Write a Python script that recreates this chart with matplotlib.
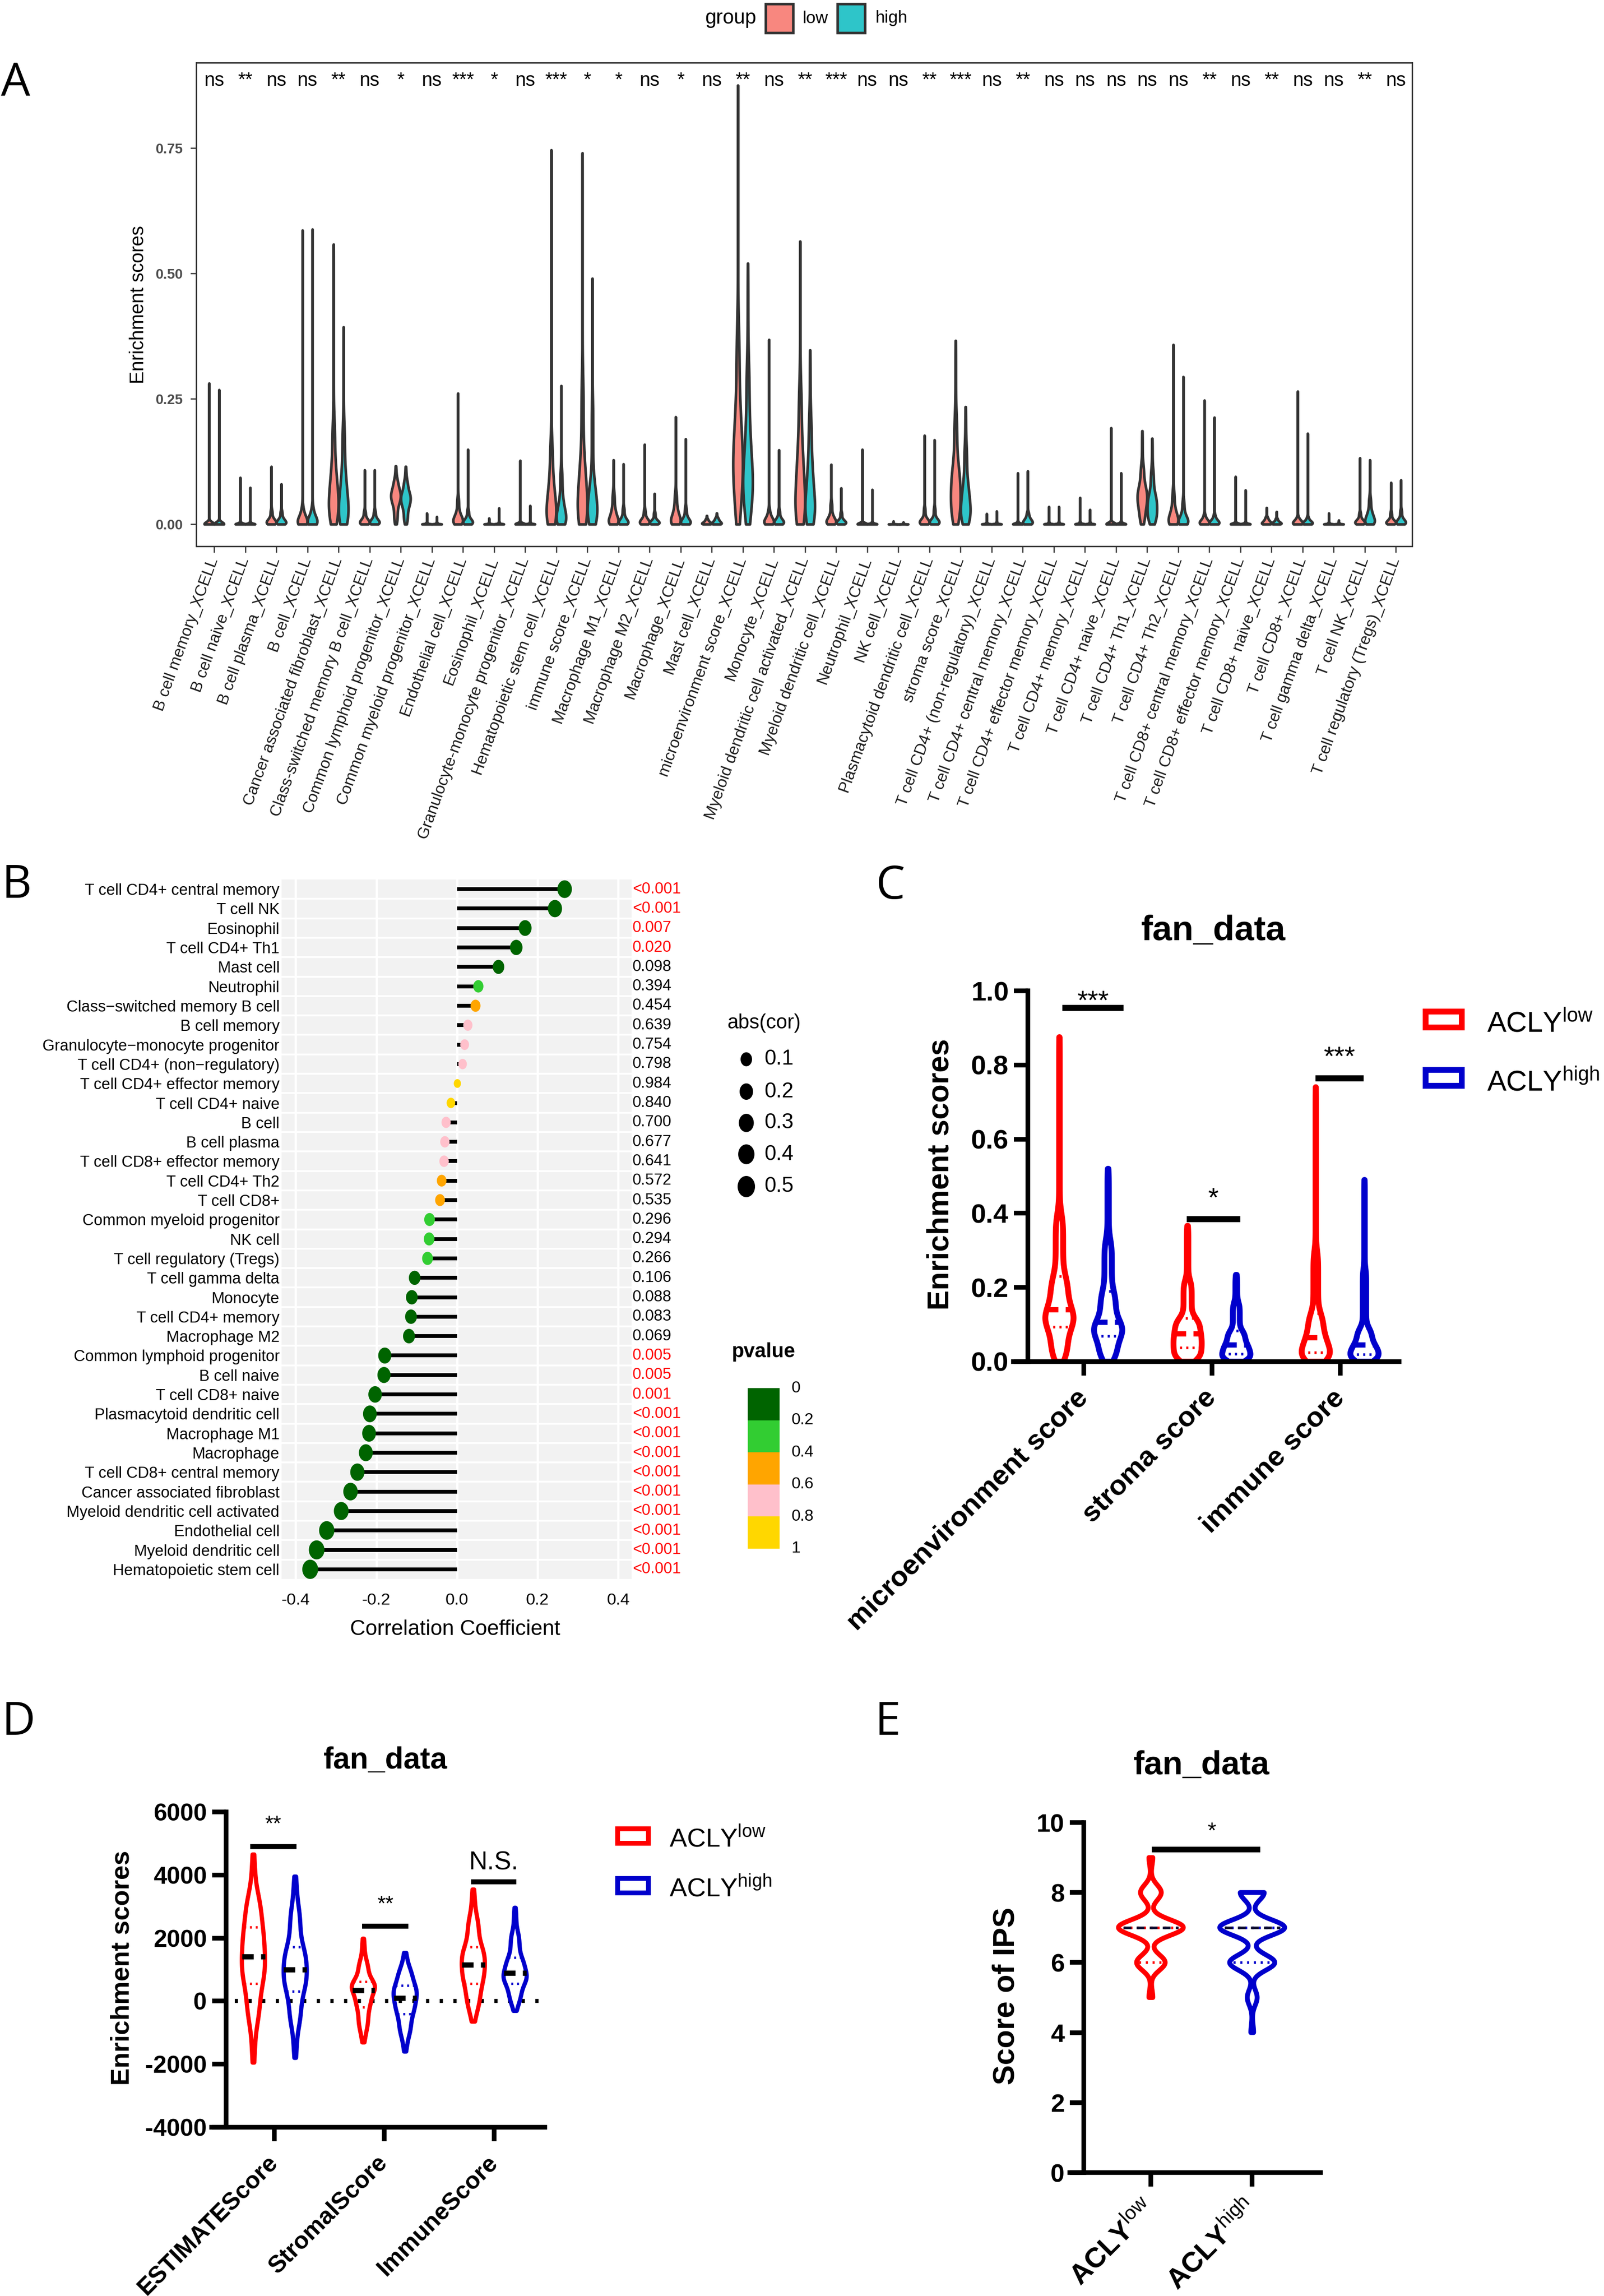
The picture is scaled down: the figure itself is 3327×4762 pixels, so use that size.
import math
import numpy as np
import matplotlib
matplotlib.use("Agg")
import matplotlib.pyplot as plt
from matplotlib.path import Path
from matplotlib.markers import MarkerStyle
from matplotlib.patches import Rectangle
from matplotlib.colors import ListedColormap, BoundaryNorm
from matplotlib.transforms import blended_transform_factory
from matplotlib import font_manager as fm

# ======================= DATA =======================
# ---- Panel A : xCell enrichment scores (quantiles) ----
A_cells = ["B cell memory", "B cell naive", "B cell plasma", "B cell",
           "Cancer associated fibroblast", "Class-switched memory B cell",
           "Common lymphoid progenitor", "Common myeloid progenitor", "Endothelial cell",
           "Eosinophil", "Granulocyte-monocyte progenitor", "Hematopoietic stem cell",
           "immune score", "Macrophage M1", "Macrophage M2", "Macrophage", "Mast cell",
           "microenvironment score", "Monocyte", "Myeloid dendritic cell activated",
           "Myeloid dendritic cell", "Neutrophil", "NK cell", "Plasmacytoid dendritic cell",
           "stroma score", "T cell CD4+ (non-regulatory)", "T cell CD4+ central memory",
           "T cell CD4+ effector memory", "T cell CD4+ memory", "T cell CD4+ naive",
           "T cell CD4+ Th1", "T cell CD4+ Th2", "T cell CD8+ central memory",
           "T cell CD8+ effector memory", "T cell CD8+ naive", "T cell CD8+",
           "T cell gamma delta", "T cell NK", "T cell regulatory (Tregs)"]
A_signif = ["ns", "**", "ns", "ns", "**", "ns", "*", "ns", "***", "*",
            "ns", "***", "*", "*", "ns", "*", "ns", "**", "ns", "**",
            "***", "ns", "ns", "**", "***", "ns", "**", "ns", "ns", "ns",
            "ns", "ns", "**", "ns", "**", "ns", "ns", "**", "ns"]
A_min = 0.0
A_probs = [0.0, 0.25, 0.5, 0.75, 0.95, 1.0]
low_q25 = [0, 0, .002, .002, .03, .002, .04, 0, .004, 0, 0, .015, .025, .004, .002, .004, .001, .094, .002, .03,
           .003, 0, 0, .002, .038, 0, 0, 0, 0, 0, .035, .004, .001, 0, .001, .001, 0, .002, .002]
low_q50 = [0, 0, .006, .006, .06, .006, .055, 0, .01, 0, 0, .04, .065, .012, .006, .012, .003, .14, .006, .08,
           .008, 0, 0, .006, .075, 0, 0, 0, 0, 0, .055, .012, .004, 0, .004, .003, 0, .005, .005]
low_q75 = [.001, .001, .012, .013, .11, .012, .068, .001, .022, .001, .001, .085, .13, .03, .012, .03, .006, .23, .012, .15,
           .018, .001, .0005, .012, .117, .001, .001, .001, .001, .001, .075, .03, .008, .001, .008, .006, .001, .01, .01]
low_q95 = [.006, .005, .03, .035, .21, .028, .09, .004, .055, .004, .005, .17, .30, .065, .03, .065, .011, .40, .03, .28,
           .045, .005, .002, .035, .22, .004, .006, .005, .005, .006, .12, .07, .02, .005, .015, .015, .004, .025, .025]
low_max = [.281, .093, .115, .586, .558, .108, .116, .022, .261, .012, .127, .746, .740, .128, .159, .214, .017, .875, .368, .564,
           .119, .149, .006, .177, .366, .021, .102, .035, .053, .192, .186, .358, .247, .095, .033, .265, .022, .132, .083]
high_q25 = [0, 0, .002, .002, .02, .002, .035, 0, .002, 0, 0, .008, .02, .002, .002, .002, .001, .069, .002, .025,
            .002, 0, 0, .002, .021, 0, .002, 0, 0, 0, .02, .003, .001, 0, .001, .001, 0, .004, .002]
high_q50 = [0, 0, .006, .006, .05, .006, .05, 0, .006, 0, 0, .022, .045, .006, .005, .006, .004, .106, .006, .06,
            .005, 0, 0, .006, .046, 0, .006, 0, 0, 0, .04, .008, .004, 0, .003, .003, 0, .012, .006]
high_q75 = [.001, .001, .012, .013, .10, .012, .063, .001, .012, .001, .001, .05, .09, .014, .01, .014, .008, .19, .012, .12,
            .01, .001, .0005, .012, .083, .001, .012, .001, .001, .001, .06, .02, .008, .001, .006, .006, .001, .025, .012]
high_q95 = [.006, .005, .028, .035, .20, .028, .088, .004, .03, .005, .005, .11, .25, .035, .025, .035, .014, .33, .03, .22,
            .025, .005, .002, .035, .16, .005, .025, .005, .005, .006, .11, .05, .02, .005, .012, .015, .003, .055, .03]
high_max = [.268, .073, .080, .588, .393, .108, .115, .015, .149, .032, .037, .276, .490, .120, .061, .170, .022, .520, .148, .347,
            .072, .069, .004, .168, .234, .026, .106, .035, .029, .102, .171, .294, .213, .068, .025, .181, .008, .128, .088]
A_yticks = [0.0, 0.25, 0.50, 0.75]
A_yticklabels = ["0.00", "0.25", "0.50", "0.75"]

# ---- Panel B : correlation with ACLY ----
B_cells = ["T cell CD4+ central memory", "T cell NK", "Eosinophil", "T cell CD4+ Th1", "Mast cell",
           "Neutrophil", "Class\u2212switched memory B cell", "B cell memory",
           "Granulocyte\u2212monocyte progenitor", "T cell CD4+ (non\u2212regulatory)",
           "T cell CD4+ effector memory", "T cell CD4+ naive", "B cell", "B cell plasma",
           "T cell CD8+ effector memory", "T cell CD4+ Th2", "T cell CD8+", "Common myeloid progenitor",
           "NK cell", "T cell regulatory (Tregs)", "T cell gamma delta", "Monocyte", "T cell CD4+ memory",
           "Macrophage M2", "Common lymphoid progenitor", "B cell naive", "T cell CD8+ naive",
           "Plasmacytoid dendritic cell", "Macrophage M1", "Macrophage", "T cell CD8+ central memory",
           "Cancer associated fibroblast", "Myeloid dendritic cell activated", "Endothelial cell",
           "Myeloid dendritic cell", "Hematopoietic stem cell"]
B_cor = [0.267, 0.243, 0.169, 0.147, 0.103, 0.053, 0.046, 0.027, 0.019, 0.014, 0.001, -0.015,
         -0.027, -0.030, -0.032, -0.038, -0.042, -0.068, -0.069, -0.073, -0.105, -0.112, -0.114, -0.119,
         -0.179, -0.181, -0.203, -0.216, -0.218, -0.226, -0.247, -0.264, -0.287, -0.323, -0.348, -0.364]
B_p = [0.0004, 0.0004, 0.007, 0.020, 0.098, 0.394, 0.454, 0.639, 0.754, 0.798, 0.984, 0.840,
       0.700, 0.677, 0.641, 0.572, 0.535, 0.296, 0.294, 0.266, 0.106, 0.088, 0.083, 0.069,
       0.005, 0.005, 0.0012, 0.0004, 0.0004, 0.0004, 0.0004, 0.0004, 0.0004, 0.0004, 0.0004, 0.0004]
B_xticks = [-0.4, -0.2, 0.0, 0.2, 0.4]
B_xticklabels = ["-0.4", "-0.2", "0.0", "0.2", "0.4"]
B_size_breaks = [0.1, 0.2, 0.3, 0.4, 0.5]
B_p_bounds = [0.0, 0.2, 0.4, 0.6, 0.8, 1.0]
B_p_colors = ["#006400", "#32CD32", "#FFA500", "#FFC0CB", "#FFD700"]

# ---- Panel C : same xCell scores (microenvironment, stroma, immune) ----
C_groups = ["microenvironment score", "stroma score", "immune score"]
C_idx = [A_cells.index(g) for g in C_groups]
C_signif = ["***", "*", "***"]
C_yticks = [0.0, 0.2, 0.4, 0.6, 0.8, 1.0]
C_yticklabels = ["0.0", "0.2", "0.4", "0.6", "0.8", "1.0"]

# ---- Panel D : ESTIMATE scores ----
D_groups = ["ESTIMATEScore", "StromalScore", "ImmuneScore"]
D_probs = [0.0, 0.05, 0.25, 0.5, 0.75, 0.95, 1.0]
D_low = [[-1950, -700, 560, 1410, 2350, 3400, 4650],
         [-1310, -900, -190, 350, 620, 1300, 1980],
         [-650, -200, 563, 1160, 1726, 2700, 3540]]
D_high = [[-1800, -800, 310, 1000, 1720, 3000, 3950],
          [-1600, -1100, -410, 100, 500, 1050, 1530],
          [-310, 0, 563, 900, 1376, 2200, 2960]]
D_signif = ["**", "**", "N.S."]
D_yticks = [-4000, -2000, 0, 2000, 4000, 6000]

# ---- Panel E : IPS ----
IPS_scores = [4, 5, 6, 7, 8, 9]
E_low_counts = [0, 3, 22, 50, 16, 3]
E_high_counts = [2, 7, 32, 46, 17, 0]
E_signif = "*"
E_yticks = [0, 2, 4, 6, 8, 10]

# ======================= STYLE / HELPERS =======================
W, H, DPI = 3327, 4762, 300
names = {f.name for f in fm.fontManager.ttflist}
if "Liberation Sans Narrow" in names:
    NARROW, NS = "Liberation Sans Narrow", 1.0
else:
    NARROW, NS = "Liberation Sans", 0.92
LETTER_FONT = "Open Sans" if "Open Sans" in names else "Liberation Sans"

plt.rcParams["font.family"] = ["Liberation Sans", "DejaVu Sans"]
plt.rcParams["mathtext.fontset"] = "custom"
plt.rcParams["mathtext.rm"] = "Liberation Sans"
plt.rcParams["mathtext.sf"] = "Liberation Sans"
plt.rcParams["mathtext.it"] = "Liberation Sans:italic"
plt.rcParams["mathtext.bf"] = "Liberation Sans:bold"

RED, BLUE = "#FF0000", "#0000CC"
LOW_FILL, HIGH_FILL = "#F8877F", "#2EC5C9"

fig = plt.figure(figsize=(W / DPI, H / DPI), dpi=DPI)
fig.patch.set_facecolor("white")


def ax_px(x0, y0, x1, y1):
    return fig.add_axes([x0 / W, 1 - y1 / H, (x1 - x0) / W, (y1 - y0) / H])


_erf = np.vectorize(math.erf)


def _Phi(z):
    return 0.5 * (1.0 + _erf(z / math.sqrt(2.0)))


def violin_profile(qv, probs, kf, rf, n=400):
    """density of a distribution given by its quantiles, smoothed by a gaussian kernel"""
    qv = np.asarray(qv, float)
    grid = np.linspace(qv[0], qv[-1], n)
    iqr = np.interp(0.75, probs, qv) - np.interp(0.25, probs, qv)
    h = kf * iqr + rf * (qv[-1] - qv[0]) + 1e-6
    dens = np.zeros_like(grid)
    for i in range(len(qv) - 1):
        a, b = qv[i], qv[i + 1]
        m = probs[i + 1] - probs[i]
        if m <= 0:
            continue
        if b - a < 1e-12:
            dens += m * np.exp(-0.5 * ((grid - a) / h) ** 2) / (h * math.sqrt(2 * math.pi))
        else:
            dens += m * (_Phi((grid - a) / h) - _Phi((grid - b) / h)) / (b - a)
    return grid, dens


def draw_violin(ax, pos, coords, vals, width, face, edge, lw, z=2):
    st = [dict(coords=coords, vals=vals, mean=float(np.mean(coords)), median=float(np.median(coords)),
               min=float(coords[0]), max=float(coords[-1]), quantiles=[])]
    parts = ax.violin(st, positions=[pos], widths=[width], showmeans=False,
                      showextrema=False, showmedians=False)
    for b in parts["bodies"]:
        b.set_facecolor(face)
        b.set_edgecolor(edge)
        b.set_linewidth(lw)
        b.set_alpha(1)
        b.set_zorder(z)
        try:
            b.set_joinstyle("round")
        except Exception:
            pass
    return parts


def half_width(y, coords, vals, width):
    return float(np.interp(y, coords, 0.5 * width * vals / vals.max()))


def prism_axes(ax, xlim, ylim, left_at, yticks, ylabels, xticks, xlabels, ytfs, xtfs, lw=2.3,
               xbold=True):
    ax.set_facecolor("none")
    ax.set_xlim(*xlim)
    ax.set_ylim(*ylim)
    ax.spines["top"].set_visible(False)
    ax.spines["right"].set_visible(False)
    ax.spines["left"].set_position(("data", left_at))
    for s in ("left", "bottom"):
        ax.spines[s].set_linewidth(lw)
        ax.spines[s].set_capstyle("projecting")
    ax.tick_params(axis="both", direction="out", length=7, width=lw, color="black")
    ax.tick_params(axis="y", pad=2.5)
    ax.tick_params(axis="x", pad=9)
    ax.set_yticks(yticks, ylabels, fontsize=ytfs, fontweight="bold")
    kw = dict(fontsize=xtfs, rotation=45, ha="right", va="center", rotation_mode="anchor")
    if xbold:
        kw["fontweight"] = "bold"
    ax.set_xticks(xticks, xlabels, **kw)


# ======================= PANEL A =======================
axA = ax_px(407, 130, 2929, 1133)
xA = np.arange(1, len(A_cells) + 1)
low_q = (low_q25, low_q50, low_q75, low_q95, low_max)
high_q = (high_q25, high_q50, high_q75, high_q95, high_max)
for i in range(len(A_cells)):
    for qs, off, col in ((low_q, -0.16, LOW_FILL), (high_q, 0.16, HIGH_FILL)):
        qv = [A_min] + [q[i] for q in qs]
        coords, vals = violin_profile(qv, A_probs, 0.27, 0.012)
        draw_violin(axA, xA[i] + off, coords, vals, 0.31, col, "#333333", 1.3)
    axA.text(xA[i], 0.874, A_signif[i], ha="center", va="baseline", fontsize=9.5, color="black")
axA.set_xlim(0.426, 39.52)
axA.set_ylim(-0.044, 0.92)
for s in axA.spines.values():
    s.set_linewidth(0.7)
    s.set_color("#333333")
axA.set_facecolor("white")
axA.tick_params(axis="both", direction="out", length=3, width=0.6, color="#333333")
axA.set_yticks(A_yticks, A_yticklabels, fontsize=7, fontweight="bold", color="#4D4D4D")
axA.set_xticks(xA, [c + "_XCELL" for c in A_cells], rotation=70, ha="right", va="center",
               rotation_mode="anchor", fontsize=8, color="#1A1A1A")
axA.tick_params(axis="x", pad=3)
axA.set_ylabel("Enrichment scores", fontsize=9.5, va="center")
axA.yaxis.set_label_coords(-0.0476, 0.5)

# ======================= PANEL B =======================
axB = ax_px(584, 1824, 1310, 3275)
rows = np.arange(len(B_cells))
B_cor_a = np.asarray(B_cor)
AMAX = np.abs(B_cor_a).max()


def dot_area(a):
    d_px = 17 + 23 * np.sqrt(np.asarray(a, float) / AMAX)
    return (d_px * 72.0 / DPI) ** 2


_t = np.linspace(0, 2 * np.pi, 72)
ELL = MarkerStyle(Path(np.column_stack([0.82 * np.cos(_t), np.sin(_t)]), closed=True))
cmapB = ListedColormap(B_p_colors)
normB = BoundaryNorm(B_p_bounds, cmapB.N)

axB.set_facecolor("#F2F2F2")
for v in B_xticks:
    axB.axvline(v, color="white", lw=1.1, zorder=0.5)
for r in rows[:-1]:
    axB.axhline(r + 0.5, color="white", lw=0.9, zorder=0.6)
axB.hlines(rows, 0, B_cor_a, color="black", lw=1.9, zorder=2)
axB.scatter(B_cor_a, rows, s=dot_area(np.abs(B_cor_a)), c=B_p, cmap=cmapB, norm=normB,
            marker=ELL, linewidths=0, zorder=3)
axB.set_xlim(-0.435, 0.433)
axB.set_ylim(len(B_cells) - 0.5, -0.5)
for s in axB.spines.values():
    s.set_visible(False)
axB.tick_params(axis="both", length=0)
axB.tick_params(axis="y", pad=1)
axB.tick_params(axis="x", pad=7)
FAMB = [NARROW, "DejaVu Sans"]
axB.set_yticks(rows, B_cells, fontsize=8.5 * NS, family=FAMB, color="black")
axB.set_xticks(B_xticks, B_xticklabels, fontsize=9 * NS, family=FAMB, color="black")
axB.set_xlabel("Correlation Coefficient", fontsize=11.5 * NS, family=FAMB, va="center")
axB.xaxis.set_label_coords(0.496, -0.0717)
trB = blended_transform_factory(axB.transAxes, axB.transData)
for r, p in zip(rows, B_p):
    txt = "<0.001" if p < 0.001 else f"{p:.3f}"
    axB.text(1.003, r, txt, transform=trB, ha="left", va="center", fontsize=8.5 * NS,
             family=FAMB, color=RED if p < 0.05 else "black", clip_on=False)

# ======================= PANEL C =======================
axC = ax_px(2102, 2055, 2902, 2824)
prism_axes(axC, (-0.549, 2.46), (0, 1.0), -0.436, C_yticks, C_yticklabels, [0, 1, 2], C_groups, 13.5, 14)
C_bar_x = [(-0.17, 0.31), (-0.20, 0.22), (-0.195, 0.18)]
C_bar_y = [0.955, 0.385, 0.765]
C_star_y = [0.951, 0.42, 0.80]
for g, idx in enumerate(C_idx):
    for qs, off, col in ((low_q, -0.19, RED), (high_q, 0.19, BLUE)):
        qv = [A_min] + [q[idx] for q in qs]
        coords, vals = violin_profile(qv, A_probs, 0.15, 0.006)
        pos = g + off
        draw_violin(axC, pos, coords, vals, 0.22, "none", col, 2.9)
        for qy, ls, lw in ((qv[2], (0, (2.2, 1.4)), 2.6), (qv[1], (0, (0.8, 1.6)), 1.3), (qv[3], (0, (0.8, 1.6)), 1.3)):
            hw = half_width(qy, coords, vals, 0.22)
            axC.plot([pos - hw, pos + hw], [qy, qy], color=col, lw=lw, ls=ls, solid_capstyle="butt", zorder=3)
    x0, x1 = C_bar_x[g]
    axC.plot([g + x0, g + x1], [C_bar_y[g]] * 2, color="black", lw=3.0, solid_capstyle="butt", clip_on=False)
    axC.text(g + (x0 + x1) / 2, C_star_y[g], C_signif[g], ha="center", va="baseline", fontsize=13.5, clip_on=False)
axC.set_ylabel("Enrichment scores", fontsize=15, fontweight="bold", va="center")
axC.yaxis.set_label_coords(-0.189, 0.505)

# ======================= PANEL D =======================
axD = ax_px(439, 3758, 1130, 4412)
prism_axes(axD, (-0.57, 2.46), (-4000, 6000), -0.44, D_yticks, [str(v) for v in D_yticks],
           [0, 1, 2], D_groups, 12, 12)
axD.plot([-0.36, 2.45], [0, 0], color="black", lw=2.0, ls=(0, (0.8, 2.6)), zorder=1)
D_bar_x = [(-0.22, 0.20), (-0.20, 0.22), (-0.21, 0.20)]
D_bar_y = [4900, 2380, 3780]
D_star_y = [5420, 2880, 4167]
D_star_fs = [10.5, 10.5, 12.7]
for g in range(len(D_groups)):
    for qv, off, col in ((D_low[g], -0.19, RED), (D_high[g], 0.19, BLUE)):
        coords, vals = violin_profile(qv, D_probs, 0.2, 0.01)
        pos = g + off
        draw_violin(axD, pos, coords, vals, 0.21, "none", col, 2.1)
        q25, q50, q75 = qv[2], qv[3], qv[4]
        for qy, c2, ls, lw in ((q50, "black", (0, (2.2, 1.4)), 2.6), (q25, col, (0, (0.8, 1.6)), 1.2),
                               (q75, col, (0, (0.8, 1.6)), 1.2)):
            hw = half_width(qy, coords, vals, 0.21)
            axD.plot([pos - hw, pos + hw], [qy, qy], color=c2, lw=lw, ls=ls, solid_capstyle="butt", zorder=3)
    x0, x1 = D_bar_x[g]
    axD.plot([g + x0, g + x1], [D_bar_y[g]] * 2, color="black", lw=2.5, solid_capstyle="butt", clip_on=False)
    axD.text(g + (x0 + x1) / 2, D_star_y[g], D_signif[g], ha="center", va="baseline",
             fontsize=D_star_fs[g], clip_on=False)
axD.set_ylabel("Enrichment scores", fontsize=13, fontweight="bold", va="center")
axD.yaxis.set_label_coords(-0.268, 0.506)

# ======================= PANEL E =======================
axE = ax_px(2219, 3780, 2739, 4506)
E_xlabels = [r"$\mathbf{ACLY}^{\mathrm{low}}$", r"$\mathbf{ACLY}^{\mathrm{high}}$"]
prism_axes(axE, (-0.80, 1.674), (0, 10), -0.664, E_yticks, [str(v) for v in E_yticks],
           [0, 1], E_xlabels, 12.5, 14, xbold=False)
for g, (counts, col) in enumerate(((E_low_counts, RED), (E_high_counts, BLUE))):
    sample = np.repeat(IPS_scores, counts).astype(float)
    coords = np.linspace(sample.min(), sample.max(), 500)
    hE = 0.22
    vals = np.exp(-0.5 * ((coords[:, None] - sample[None, :]) / hE) ** 2).sum(axis=1)
    draw_violin(axE, g, coords, vals, 0.64, "none", col, 2.4)
    q25, q50, q75 = np.percentile(sample, [25, 50, 75])
    for qy, c2, ls in ((q25, col, (0, (0.8, 1.8))), (q75, col, (0, (0.8, 1.8))), (q50, "#111133", (0, (3, 2)))):
        hw = half_width(qy, coords, vals, 0.64) * 0.85
        axE.plot([g - hw, g + hw], [qy, qy], color=c2, lw=1.3, ls=ls, solid_capstyle="butt", zorder=3)
axE.plot([0.01, 1.08], [9.23, 9.23], color="black", lw=2.8, solid_capstyle="butt", clip_on=False)
axE.text(0.6, 9.57, E_signif, ha="center", va="baseline", fontsize=11, clip_on=False)
axE.set_ylabel("Score of IPS", fontsize=15, fontweight="bold", va="center")
axE.yaxis.set_label_coords(-0.254, 0.504)

# ======================= OVERLAY (letters, titles, legends) =======================
ov = fig.add_axes([0, 0, 1, 1])
ov.set_xlim(0, W)
ov.set_ylim(H, 0)
ov.axis("off")
ov.set_facecolor("none")
ov.set_zorder(10)

for L, x, y in (("A", 2, 198), ("B", 4, 1862), ("C", 1816, 1864), ("D", 4, 3598), ("E", 1815, 3598)):
    ov.text(x, y, L, fontsize=23, family=LETTER_FONT, ha="left", va="baseline")

for x, y, fs in ((2517, 1950, 17.5), (799, 3668, 15), (2492, 3680, 16.5)):
    ov.text(x, y, "fan_data", fontsize=fs, fontweight="bold", ha="center", va="baseline")

# panel A legend
ov.text(1569, 38, "group", fontsize=10, ha="right", va="center")
ov.add_patch(Rectangle((1588, 8), 57, 60, facecolor=LOW_FILL, edgecolor="#333333", lw=1.3))
ov.text(1665, 38, "low", fontsize=8.5, ha="left", va="center")
ov.add_patch(Rectangle((1737, 8), 57, 60, facecolor=HIGH_FILL, edgecolor="#333333", lw=1.3))
ov.text(1815, 38, "high", fontsize=8.5, ha="left", va="center")

# panel B legends
ov.text(1585, 2122, "abs(cor)", fontsize=10, ha="center", va="center")
leg_y = [2197, 2264, 2329, 2394, 2461]
ov.scatter([1548] * len(B_size_breaks), leg_y, s=dot_area(B_size_breaks), c="black", marker=ELL, linewidths=0)
for v, y in zip(B_size_breaks, leg_y):
    ov.text(1585, y, f"{v:.1f}", fontsize=10.5, ha="left", va="center")
ov.text(1583, 2804, "pvalue", fontsize=10, fontweight="bold", ha="center", va="center")
bar_top, bar_bot = 2879, 3212
nb = len(B_p_colors)
step = (bar_bot - bar_top) / nb
for k in range(nb):
    ov.add_patch(Rectangle((1551, bar_top + k * step), 66, step, facecolor=cmapB(k), edgecolor="none"))
for k, b in enumerate(B_p_bounds):
    ov.text(1642, bar_top + k * step, f"{b:g}", fontsize=8, ha="left", va="center")

# panel C legend
ov.add_patch(Rectangle((2957, 2098), 75, 33, facecolor="none", edgecolor=RED, lw=2.9))
ov.text(3084, 2141, r"ACLY$^{\mathrm{low}}$", fontsize=14.3, ha="left", va="baseline")
ov.add_patch(Rectangle((2957, 2219), 75, 33, facecolor="none", edgecolor=BLUE, lw=2.9))
ov.text(3084, 2263, r"ACLY$^{\mathrm{high}}$", fontsize=14.3, ha="left", va="baseline")

# panel D legend
ov.add_patch(Rectangle((1281, 3793), 64, 30, facecolor="none", edgecolor=RED, lw=2.4))
ov.text(1388, 3831, r"ACLY$^{\mathrm{low}}$", fontsize=13, ha="left", va="baseline")
ov.add_patch(Rectangle((1281, 3896), 64, 30, facecolor="none", edgecolor=BLUE, lw=2.4))
ov.text(1388, 3934, r"ACLY$^{\mathrm{high}}$", fontsize=13, ha="left", va="baseline")

fig.savefig("out.png", dpi=DPI)
